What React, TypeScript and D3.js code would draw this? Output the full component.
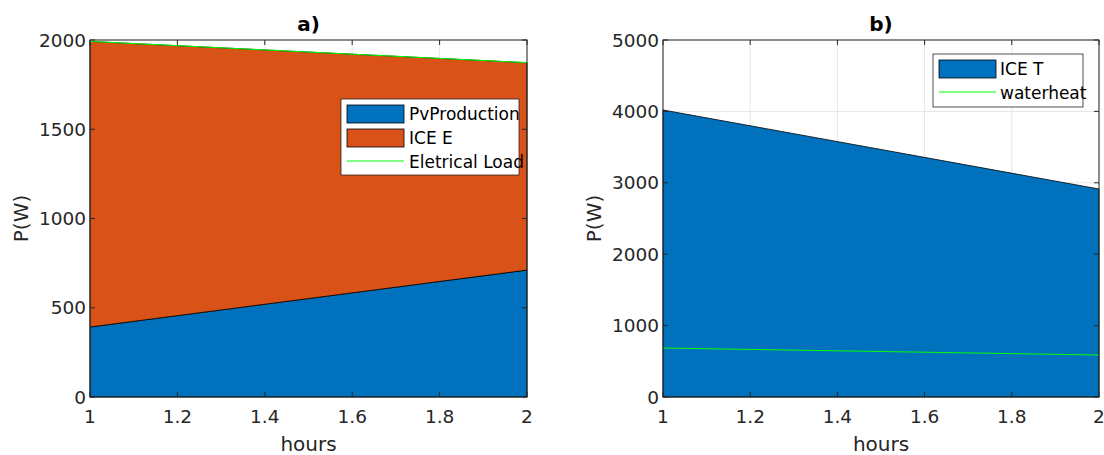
import React from "react";
import * as d3 from "d3";

const hours = [1, 2];
const pvProduction = [392, 711];
const iceE = [1600, 1162];
const electricalLoad = [1992, 1873];
const iceT = [4020, 2913];
const waterHeat = [686, 588];
const xTicks = [1, 1.2, 1.4, 1.6, 1.8, 2];
const yTicksA = [0, 500, 1000, 1500, 2000];
const yTicksB = [0, 1000, 2000, 3000, 4000, 5000];

const BLUE = "#0072BD";
const ORANGE = "#D95319";
const GREEN = "#00FF00";
const FONT = "DejaVu Sans, sans-serif";
const W = 1104;
const H = 455;

type Panel = {
  left: number;
  right: number;
  top: number;
  bottom: number;
  yMax: number;
  yTicks: number[];
  title: string;
};

function Axes({ p, children }: { p: Panel; children: (x: d3.ScaleLinear<number, number>, y: d3.ScaleLinear<number, number>) => React.ReactNode }) {
  const x = d3.scaleLinear().domain([1, 2]).range([p.left, p.right]);
  const y = d3.scaleLinear().domain([0, p.yMax]).range([p.bottom, p.top]);
  const tl = 5;
  return (
    <g>
      <rect x={p.left} y={p.top} width={p.right - p.left} height={p.bottom - p.top} fill="#fff" />
      {xTicks.map((t) => (
        <line key={"gx" + t} x1={x(t)} x2={x(t)} y1={p.top} y2={p.bottom} stroke="#e6e6e6" strokeWidth={1} />
      ))}
      {p.yTicks.map((t) => (
        <line key={"gy" + t} x1={p.left} x2={p.right} y1={y(t)} y2={y(t)} stroke="#e6e6e6" strokeWidth={1} />
      ))}
      {children(x, y)}
      <rect x={p.left} y={p.top} width={p.right - p.left} height={p.bottom - p.top} fill="none" stroke="#262626" strokeWidth={1} />
      {xTicks.map((t) => (
        <g key={"tx" + t}>
          <line x1={x(t)} x2={x(t)} y1={p.bottom} y2={p.bottom - tl} stroke="#262626" />
          <line x1={x(t)} x2={x(t)} y1={p.top} y2={p.top + tl} stroke="#262626" />
          <text x={x(t)} y={p.bottom + 26} textAnchor="middle" fontSize={18.5} fill="#262626" fontFamily={FONT}>
            {String(t)}
          </text>
        </g>
      ))}
      {p.yTicks.map((t) => (
        <g key={"ty" + t}>
          <line x1={p.left} x2={p.left + tl} y1={y(t)} y2={y(t)} stroke="#262626" />
          <line x1={p.right} x2={p.right - tl} y1={y(t)} y2={y(t)} stroke="#262626" />
          <text x={p.left - 4} y={y(t) + 6.5} textAnchor="end" fontSize={18.5} fill="#262626" fontFamily={FONT}>
            {String(t)}
          </text>
        </g>
      ))}
      <text x={(p.left + p.right) / 2} y={p.bottom + 53.5} textAnchor="middle" fontSize={20} fill="#262626" fontFamily={FONT}>
        hours
      </text>
      <text
        transform={`translate(${p.left - 62},${(p.top + p.bottom) / 2}) rotate(-90)`}
        textAnchor="middle"
        fontSize={20}
        fill="#262626"
        fontFamily={FONT}
      >
        P(W)
      </text>
      <text x={(p.left + p.right) / 2} y={p.top - 9} textAnchor="middle" fontSize={20} fontWeight="bold" fill="#000" fontFamily={FONT}>
        {p.title}
      </text>
    </g>
  );
}

export default function App() {
  const pA: Panel = { left: 90, right: 527, top: 40, bottom: 397, yMax: 2000, yTicks: yTicksA, title: "a)" };
  const pB: Panel = { left: 663, right: 1099, top: 40, bottom: 397, yMax: 5000, yTicks: yTicksB, title: "b)" };
  const idx = hours.map((_, i) => i);

  return (
    <svg width={W} height={H} style={{ position: "absolute", left: 0, top: 0, background: "#fff" }}>
      <rect width={W} height={H} fill="#fff" />
      <Axes p={pA}>
        {(x, y) => {
          const stacked = d3.stack<number>().keys(["pv", "ice"]).value((i, k) => (k === "pv" ? pvProduction[i] : iceE[i]))(idx);
          const area = d3
            .area<d3.SeriesPoint<number>>()
            .x((d) => x(hours[d.data]))
            .y0((d) => y(d[0]))
            .y1((d) => y(d[1]));
          const line = d3
            .line<number>()
            .x((i) => x(hours[i]))
            .y((i) => y(electricalLoad[i]));
          return (
            <g>
              <path d={area(stacked[0]) || ""} fill={BLUE} stroke="#000" strokeWidth={0.8} />
              <path d={area(stacked[1]) || ""} fill={ORANGE} stroke="#000" strokeWidth={0.8} />
              <path d={line(idx) || ""} fill="none" stroke={GREEN} strokeWidth={1} />
              <g fontFamily={FONT} fontSize={17} fill="#000">
                <rect x={341} y={99} width={178} height={76} fill="#fff" stroke="#262626" strokeWidth={0.8} />
                <rect x={347} y={105} width={57} height={18} fill={BLUE} stroke="#000" strokeWidth={0.8} />
                <text x={409} y={120}>PvProduction</text>
                <rect x={347} y={129} width={57} height={18} fill={ORANGE} stroke="#000" strokeWidth={0.8} />
                <text x={409} y={144}>ICE E</text>
                <line x1={347} x2={404} y1={161} y2={161} stroke={GREEN} strokeWidth={1} />
                <text x={409} y={168}>Eletrical Load</text>
              </g>
            </g>
          );
        }}
      </Axes>
      <Axes p={pB}>
        {(x, y) => {
          const area = d3
            .area<number>()
            .x((i) => x(hours[i]))
            .y0(() => y(0))
            .y1((i) => y(iceT[i]));
          const line = d3
            .line<number>()
            .x((i) => x(hours[i]))
            .y((i) => y(waterHeat[i]));
          return (
            <g>
              <path d={area(idx) || ""} fill={BLUE} stroke="#000" strokeWidth={0.8} />
              <path d={line(idx) || ""} fill="none" stroke={GREEN} strokeWidth={1} />
              <g fontFamily={FONT} fontSize={17} fill="#000">
                <rect x={933} y={54} width={150} height={53} fill="#fff" stroke="#262626" strokeWidth={0.8} />
                <rect x={939} y={60} width={57} height={18} fill={BLUE} stroke="#000" strokeWidth={0.8} />
                <text x={1000} y={75}>ICE T</text>
                <line x1={939} x2={996} y1={92} y2={92} stroke={GREEN} strokeWidth={1} />
                <text x={1000} y={99}>waterheat</text>
              </g>
            </g>
          );
        }}
      </Axes>
    </svg>
  );
}
